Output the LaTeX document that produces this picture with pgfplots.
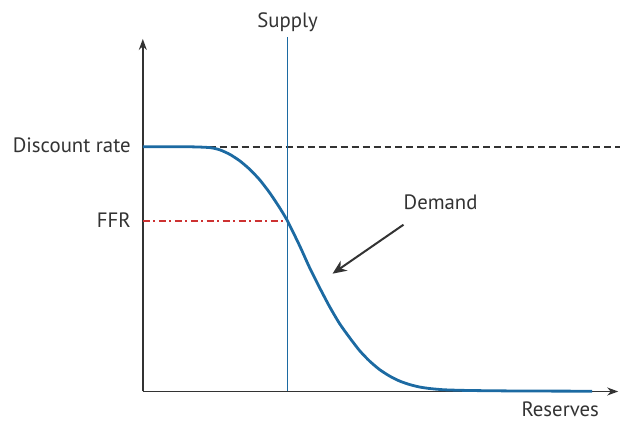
\documentclass[border=0pt]{standalone}
\usepackage{pgfplots}
\pgfplotsset{compat=1.18}
\usepackage{fontspec}
\setmainfont{PT Sans}
\usetikzlibrary{arrows.meta}
\definecolor{dblue}{RGB}{28,106,162}
\definecolor{dgray}{RGB}{51,51,51}
\definecolor{dred}{RGB}{205,50,50}
\newcommand{\lf}{\fontsize{20.8}{24}\selectfont}
\begin{document}
\begin{tikzpicture}
\begin{axis}[
  scale only axis, width=621pt, height=422pt,
  xmin=0, xmax=621, ymin=0, ymax=422, y dir=reverse,
  hide axis, clip=false,
]
\addplot[draw=none] coordinates {(0,0) (621,422)};
% axes
\addplot[dgray, line width=1.6pt, -{Stealth[length=11pt,width=8pt]}] coordinates {(143,392) (143,39)};
\addplot[dgray, line width=1.6pt, -{Stealth[length=11pt,width=8pt]}] coordinates {(143,392) (619,392)};
% discount rate
\addplot[dgray, line width=1.6pt, dash pattern=on 7pt off 4pt] coordinates {(143,147) (621,147)};
% FFR
\addplot[dred, line width=1.6pt, dash pattern=on 7pt off 3.5pt on 2pt off 3.5pt] coordinates {(143,221) (288,221)};
% supply
\addplot[dblue, line width=1.6pt] coordinates {(288,37) (288,392)};
% demand
\addplot[dblue, line width=2.8pt, smooth, tension=0.4] coordinates {
(143,147) (190,147) (210,147.8) (220,150) (230,154.5) (240,161) (250,169.5) (260,180) (270,193) (280,208) (288,221.5)
(300,246) (310,268) (320,288) (330,307) (340,324) (350,338) (360,351) (370,361.5) (380,370) (390,376.5)
(400,381.5) (410,385) (420,387.5) (430,389) (445,390.3) (470,391) (520,391.5) (593,391.7)};
% annotation arrow
\addplot[dgray, line width=2pt, -{Stealth[length=14pt,width=12pt]}] coordinates {(404,225) (333,274)};
\node[font=\lf, text=dgray, anchor=base] at (axis cs:288,28) {Supply};
\node[font=\lf, text=dgray, anchor=east, inner sep=0pt] at (axis cs:131,145) {Discount rate};
\node[font=\lf, text=dgray, anchor=east, inner sep=0pt] at (axis cs:131,220) {FFR};
\node[font=\lf, text=dgray, anchor=west, inner sep=0pt] at (axis cs:404,203) {Demand};
\node[font=\lf, text=dgray, anchor=west, inner sep=0pt] at (axis cs:522,410) {Reserves};
\end{axis}
\end{tikzpicture}
\end{document}
